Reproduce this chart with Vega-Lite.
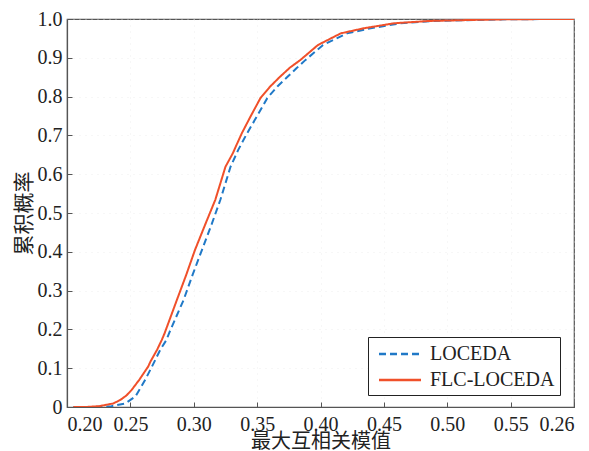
{
  "$schema": "https://vega.github.io/schema/vega-lite/v6.json",
  "width": 507,
  "height": 388,
  "autosize": {"type": "none"},
  "padding": {"left": 67, "top": 19, "right": 15, "bottom": 44},
  "config": {
    "view": {"stroke": "#555555", "strokeWidth": 1.2},
    "font": "Liberation Serif",
    "axis": {
      "domainColor": "#555555",
      "domainWidth": 1.2,
      "tickColor": "#555555",
      "tickSize": -5,
      "labelFont": "Liberation Serif",
      "labelFontSize": 20,
      "labelColor": "#222222",
      "titleFont": "Noto Sans CJK SC",
      "titleFontSize": 21,
      "titleFontWeight": "normal",
      "titleColor": "#222222",
      "gridColor": "#e6e6e6",
      "gridDash": [1, 5],
      "gridWidth": 0.6
    }
  },
  "data": {
    "values": [
      {"x": 0.205, "p": 0.0, "s": "LOCEDA"},
      {"x": 0.22, "p": 0.0, "s": "LOCEDA"},
      {"x": 0.235, "p": 0.002, "s": "LOCEDA"},
      {"x": 0.2459, "p": 0.009, "s": "LOCEDA"},
      {"x": 0.254, "p": 0.027, "s": "LOCEDA"},
      {"x": 0.2617, "p": 0.07, "s": "LOCEDA"},
      {"x": 0.267, "p": 0.104, "s": "LOCEDA"},
      {"x": 0.2735, "p": 0.147, "s": "LOCEDA"},
      {"x": 0.2785, "p": 0.173, "s": "LOCEDA"},
      {"x": 0.2805, "p": 0.19, "s": "LOCEDA"},
      {"x": 0.292, "p": 0.276, "s": "LOCEDA"},
      {"x": 0.299, "p": 0.34, "s": "LOCEDA"},
      {"x": 0.3065, "p": 0.405, "s": "LOCEDA"},
      {"x": 0.314, "p": 0.47, "s": "LOCEDA"},
      {"x": 0.321, "p": 0.534, "s": "LOCEDA"},
      {"x": 0.329, "p": 0.619, "s": "LOCEDA"},
      {"x": 0.335, "p": 0.662, "s": "LOCEDA"},
      {"x": 0.342, "p": 0.705, "s": "LOCEDA"},
      {"x": 0.35, "p": 0.75, "s": "LOCEDA"},
      {"x": 0.358, "p": 0.796, "s": "LOCEDA"},
      {"x": 0.366, "p": 0.826, "s": "LOCEDA"},
      {"x": 0.374, "p": 0.851, "s": "LOCEDA"},
      {"x": 0.381, "p": 0.873, "s": "LOCEDA"},
      {"x": 0.388, "p": 0.894, "s": "LOCEDA"},
      {"x": 0.402, "p": 0.933, "s": "LOCEDA"},
      {"x": 0.421, "p": 0.963, "s": "LOCEDA"},
      {"x": 0.4395, "p": 0.976, "s": "LOCEDA"},
      {"x": 0.452, "p": 0.983, "s": "LOCEDA"},
      {"x": 0.463, "p": 0.989, "s": "LOCEDA"},
      {"x": 0.49, "p": 0.995, "s": "LOCEDA"},
      {"x": 0.53, "p": 0.998, "s": "LOCEDA"},
      {"x": 0.55, "p": 0.9995, "s": "LOCEDA"},
      {"x": 0.6, "p": 1.0, "s": "LOCEDA"},
      {"x": 0.205, "p": 0.0, "s": "FLC-LOCEDA"},
      {"x": 0.215, "p": 0.0, "s": "FLC-LOCEDA"},
      {"x": 0.225, "p": 0.002, "s": "FLC-LOCEDA"},
      {"x": 0.2364, "p": 0.009, "s": "FLC-LOCEDA"},
      {"x": 0.242, "p": 0.018, "s": "FLC-LOCEDA"},
      {"x": 0.247, "p": 0.03, "s": "FLC-LOCEDA"},
      {"x": 0.251, "p": 0.044, "s": "FLC-LOCEDA"},
      {"x": 0.257, "p": 0.07, "s": "FLC-LOCEDA"},
      {"x": 0.264, "p": 0.104, "s": "FLC-LOCEDA"},
      {"x": 0.266, "p": 0.118, "s": "FLC-LOCEDA"},
      {"x": 0.271, "p": 0.147, "s": "FLC-LOCEDA"},
      {"x": 0.2748, "p": 0.173, "s": "FLC-LOCEDA"},
      {"x": 0.277, "p": 0.19, "s": "FLC-LOCEDA"},
      {"x": 0.2867, "p": 0.276, "s": "FLC-LOCEDA"},
      {"x": 0.294, "p": 0.34, "s": "FLC-LOCEDA"},
      {"x": 0.301, "p": 0.405, "s": "FLC-LOCEDA"},
      {"x": 0.309, "p": 0.47, "s": "FLC-LOCEDA"},
      {"x": 0.317, "p": 0.534, "s": "FLC-LOCEDA"},
      {"x": 0.325, "p": 0.619, "s": "FLC-LOCEDA"},
      {"x": 0.331, "p": 0.655, "s": "FLC-LOCEDA"},
      {"x": 0.333, "p": 0.67, "s": "FLC-LOCEDA"},
      {"x": 0.338, "p": 0.706, "s": "FLC-LOCEDA"},
      {"x": 0.345, "p": 0.75, "s": "FLC-LOCEDA"},
      {"x": 0.3526, "p": 0.796, "s": "FLC-LOCEDA"},
      {"x": 0.36, "p": 0.825, "s": "FLC-LOCEDA"},
      {"x": 0.368, "p": 0.851, "s": "FLC-LOCEDA"},
      {"x": 0.376, "p": 0.875, "s": "FLC-LOCEDA"},
      {"x": 0.384, "p": 0.894, "s": "FLC-LOCEDA"},
      {"x": 0.398, "p": 0.933, "s": "FLC-LOCEDA"},
      {"x": 0.416, "p": 0.963, "s": "FLC-LOCEDA"},
      {"x": 0.434, "p": 0.976, "s": "FLC-LOCEDA"},
      {"x": 0.447, "p": 0.983, "s": "FLC-LOCEDA"},
      {"x": 0.458, "p": 0.989, "s": "FLC-LOCEDA"},
      {"x": 0.486, "p": 0.995, "s": "FLC-LOCEDA"},
      {"x": 0.526, "p": 0.998, "s": "FLC-LOCEDA"},
      {"x": 0.55, "p": 0.9995, "s": "FLC-LOCEDA"},
      {"x": 0.6, "p": 1.0, "s": "FLC-LOCEDA"}
    ]
  },
  "mark": {"type": "line", "strokeWidth": 2, "clip": true},
  "encoding": {
    "x": {
      "field": "x",
      "type": "quantitative",
      "scale": {"domain": [0.2, 0.6], "nice": false, "zero": false},
      "axis": {
        "title": "最大互相关模值",
        "titleFontSize": 20,
        "values": [0.2, 0.25, 0.3, 0.35, 0.4, 0.45, 0.5, 0.55, 0.6],
        "labelExpr": "datum.value >= 0.599 ? '0.26' : format(datum.value, '.2f')",
        "labelPadding": 12,
        "titlePadding": -3,
        "grid": true
      }
    },
    "y": {
      "field": "p",
      "type": "quantitative",
      "scale": {"domain": [0, 1], "nice": false},
      "axis": {
        "title": "累积概率",
        "values": [0, 0.1, 0.2, 0.3, 0.4, 0.5, 0.6, 0.7, 0.8, 0.9, 1.0],
        "labelExpr": "datum.value == 0 ? '0' : format(datum.value, '.1f')",
        "labelPadding": 10,
        "titlePadding": 3,
        "grid": true
      }
    },
    "color": {
      "field": "s",
      "type": "nominal",
      "scale": {"domain": ["LOCEDA", "FLC-LOCEDA"], "range": ["#2079C7", "#F0502A"]},
      "legend": {
        "title": null,
        "orient": "none",
        "legendX": 301,
        "legendY": 318,
        "symbolType": "M-2,0H2",
        "symbolSize": 441,
        "symbolOffset": 15,
        "symbolStrokeWidth": 2.5,
        "labelOffset": 18,
        "labelFont": "Liberation Serif",
        "labelFontSize": 20,
        "labelColor": "#222222",
        "rowPadding": 4,
        "padding": 5,
        "strokeColor": "#222222",
        "fillColor": "white",
        "labelLimit": 250
      }
    },
    "strokeDash": {
      "field": "s",
      "type": "nominal",
      "scale": {"domain": ["LOCEDA", "FLC-LOCEDA"], "range": [[7, 4], [1, 0]]},
      "legend": null
    }
  }
}
